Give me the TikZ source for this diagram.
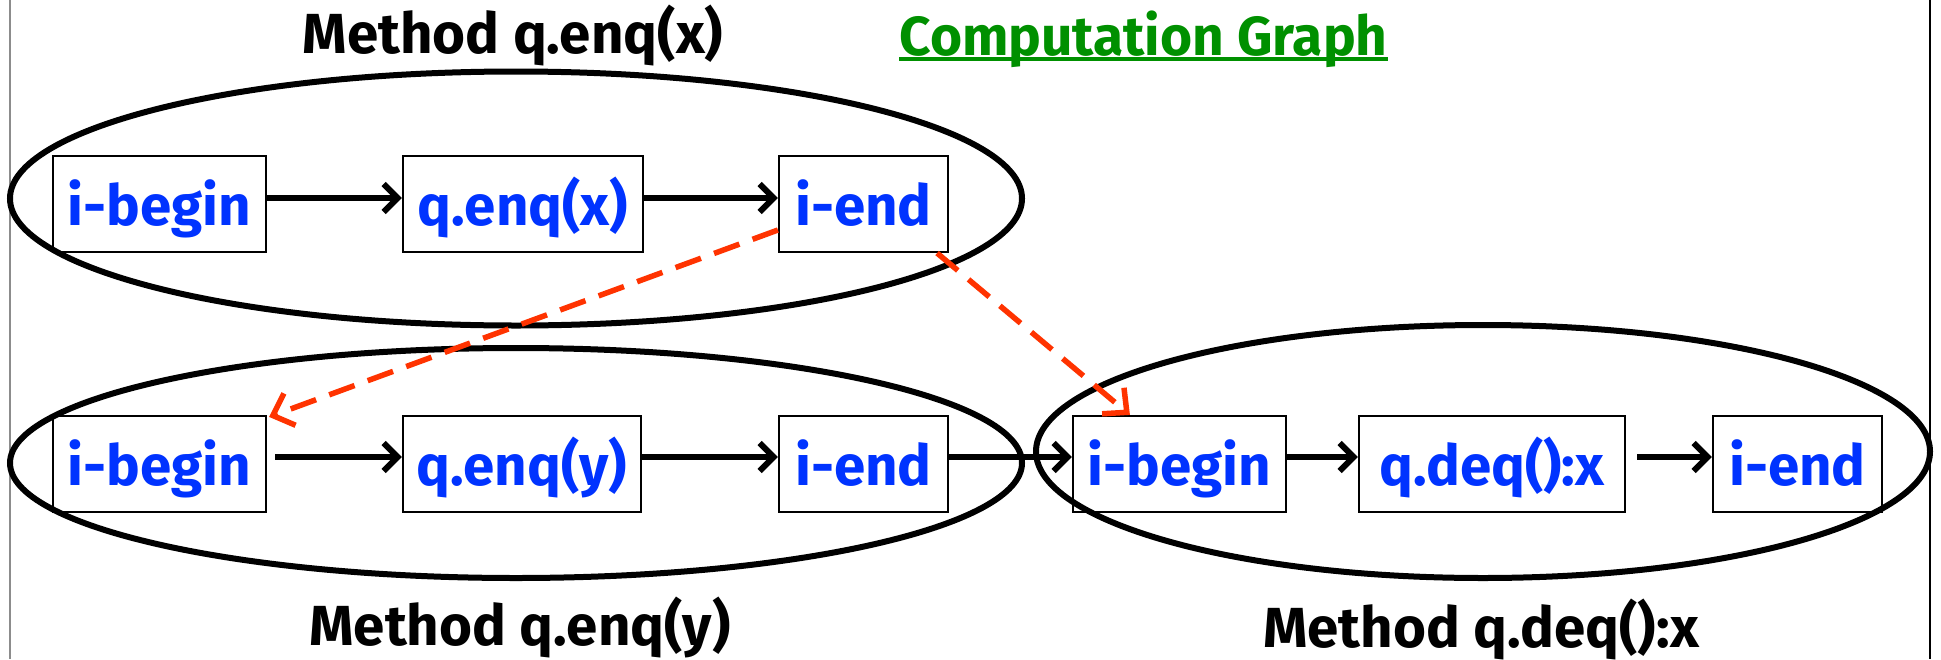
\documentclass[tikz,border=0pt]{standalone}
\usepackage{fontspec}
\setmainfont{Fira Sans}
\usetikzlibrary{arrows.meta}
\definecolor{nodeblue}{RGB}{0,51,255}
\definecolor{linkred}{RGB}{255,51,0}
\definecolor{titlegreen}{RGB}{0,144,0}
\begin{document}
\begin{tikzpicture}[x=1pt,y=-1pt,
  box/.style={draw=black, line width=2.2pt, minimum height=96pt, inner sep=0pt,
    text height=50pt, text depth=8pt,
    text=nodeblue, font=\bfseries\fontsize{56.5}{62}\selectfont},
  heading/.style={anchor=base, inner sep=0pt, font=\bfseries\fontsize{56.5}{62}\selectfont},
  group/.style={draw=black, line width=6pt},
  flow/.style={line width=6pt, -{Straight Barb[length=14pt,width=28pt]}},
  link/.style={draw=linkred, line width=5.5pt, dash pattern=on 27pt off 14pt,
    -{Straight Barb[length=18pt,width=34pt]}}
]
\useasboundingbox (0,0) rectangle (1941,659);
\fill[white] (0,0) rectangle (1941,659);
\draw[line width=2pt, black!45] (10,0) -- (10,659);
\draw[line width=2pt, black] (1930,0) -- (1930,659);

% method groups
\draw[group] (516,198.5) ellipse [x radius=506pt, y radius=127pt];
\draw[group] (516,463) ellipse [x radius=506pt, y radius=115pt];
\draw[group] (1483,451.5) ellipse [x radius=447pt, y radius=126.5pt];

% headings
\node[heading] (h1) at (513,53) {Method q.enq(x)};
\node[heading, text=titlegreen, font=\bfseries\fontsize{55}{60}\selectfont] (hc) at (1143.5,55) {Computation Graph};
\draw[titlegreen, line width=4.5pt] ([yshift=-4pt]hc.base west) -- ([yshift=-4pt]hc.base east);
\node[heading] (h2) at (520,645) {Method q.enq(y)};
\node[heading] (h3) at (1481,647) {Method q.deq():x};

% q.enq(x)
\node[box, minimum width=213pt] (t1) at (159.5,204) {i-begin};
\node[box, minimum width=240pt] (t2) at (523,204) {q.enq(x)};
\node[box, minimum width=169pt] (t3) at (863.5,204) {i-end};
% q.enq(y)
\node[box, minimum width=213pt] (b1) at (159.5,464) {i-begin};
\node[box, minimum width=238pt] (b2) at (522,464) {q.enq(y)};
\node[box, minimum width=169pt] (b3) at (863.5,464) {i-end};
% q.deq():x
\node[box, minimum width=213pt] (r1) at (1179.5,464) {i-begin};
\node[box, minimum width=266pt] (r2) at (1492,464) {q.deq():x};
\node[box, minimum width=169pt] (r3) at (1797.5,464) {i-end};

% program order
\draw[flow] ([yshift=6pt]t1.east) -- ([yshift=6pt]t2.west);
\draw[flow] ([yshift=6pt]t2.east) -- ([yshift=6pt]t3.west);
\draw[flow, shorten <=8pt] ([yshift=7pt]b1.east) -- ([yshift=7pt]b2.west);
\draw[flow] ([yshift=7pt]b2.east) -- ([yshift=7pt]b3.west);
\draw[flow] ([yshift=7pt]b3.east) -- ([yshift=7pt]r1.west);
\draw[flow] ([yshift=7pt]r1.east) -- ([yshift=7pt]r2.west);
\draw[flow, shorten <=11pt] ([yshift=7pt]r2.east) -- ([yshift=7pt]r3.west);

% real-time order
\draw[link] ([yshift=-26pt]t3.west) -- ([xshift=2pt,yshift=-2pt]b1.north east);
\draw[link] ([xshift=-12pt]t3.south east) -- ([xshift=58pt]r1.north west);
\end{tikzpicture}
\end{document}
